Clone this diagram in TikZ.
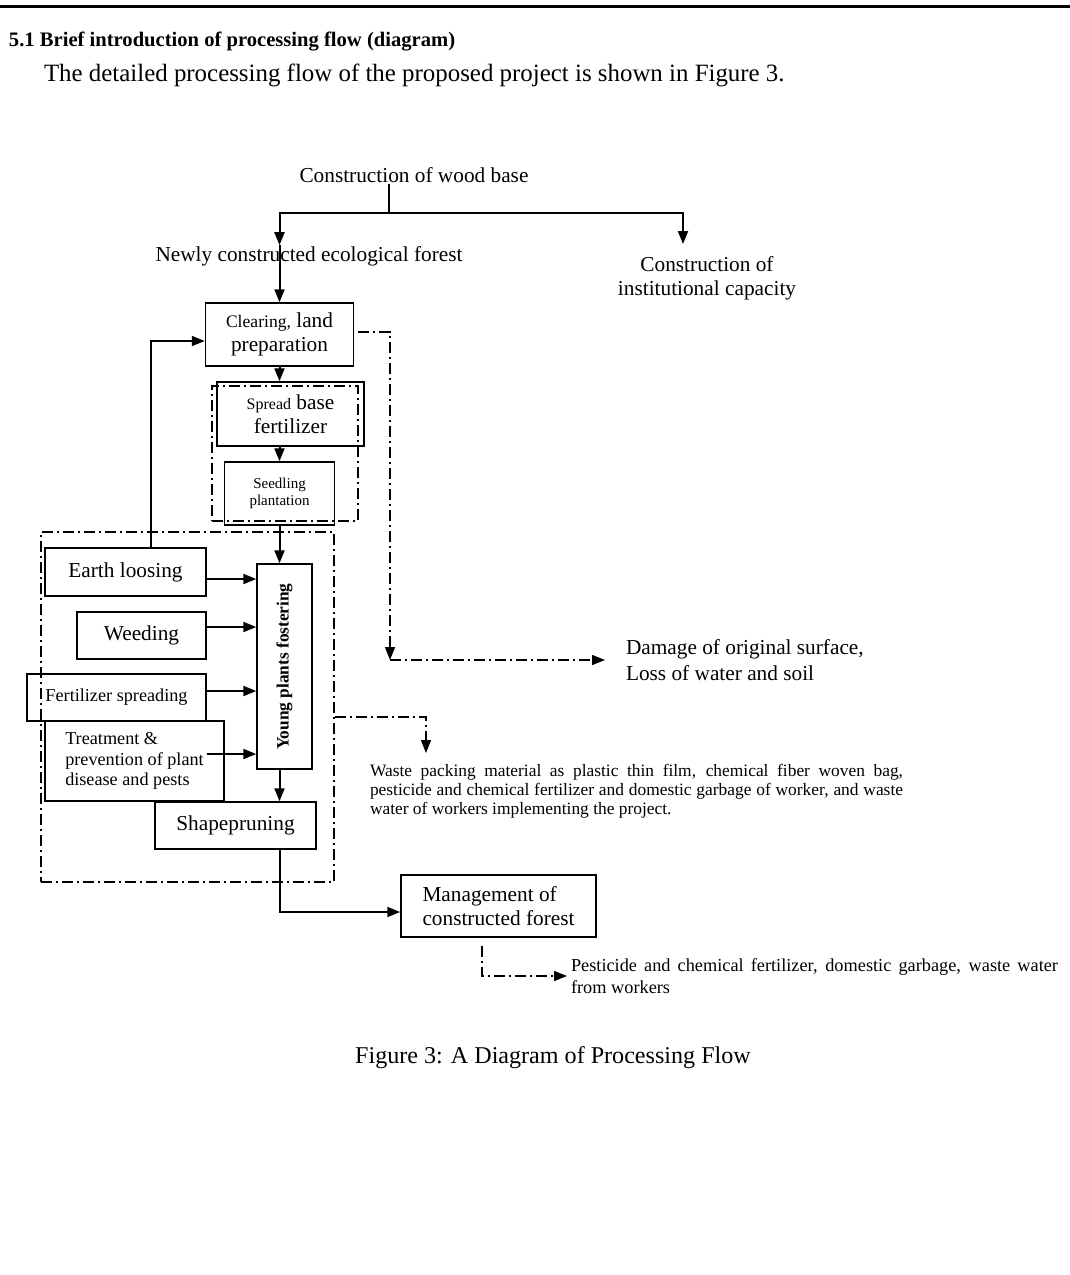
\documentclass[tikz,border=0pt]{standalone}
\usepackage{fontspec}
\setmainfont{Liberation Serif}
\usetikzlibrary{arrows.meta,calc}

\newcommand\bigtxt{\fontsize{10.65}{12}\selectfont}
\newcommand\smalltxt{\fontsize{9.1}{10.25}\selectfont}

\begin{document}
\begin{tikzpicture}[x=0.5pt,y=-0.5pt,>={Triangle[length=6.5pt,width=5pt]},line width=1pt,
    box/.style={draw,line width=0.75pt,inner sep=0pt,align=center,font=\bigtxt},
    txt/.style={inner sep=0pt,align=center,font=\bigtxt},
    dd/.style={line width=0.7pt,dash pattern=on 5.5pt off 2pt on 1pt off 2pt}]
    \useasboundingbox (0,0) rectangle (1070,1275);
    \draw[line width=1.5pt] (0,6) -- (1070,6);

    \node[txt,anchor=west,font=\bfseries\fontsize{10.3}{12}\selectfont] (head) at (8,42) {5.1 Brief introduction of processing flow (diagram)};
    \node[txt,anchor=west,font=\fontsize{12.45}{14}\selectfont] (intro) at (43,75) {The detailed processing flow of the proposed project is shown in Figure 3.};

    \node[txt] (wood)  at (414,175) {Construction of wood base};
    \node[txt] (newly) at (309,256) {Newly constructed ecological forest};
    \node[txt] (inst)  at (707,278) {Construction of\\institutional capacity};

    \node[box,minimum width=74pt,minimum height=31.5pt] (clear) at (279.5,334.5) {{\fontsize{8.8}{12}\selectfont Clearing,} land\\preparation};
    \node[box,minimum width=73.5pt,minimum height=32pt] (spread) at (290.5,414) {{\fontsize{8}{12}\selectfont Spread} base\\fertilizer};
    \node[box,minimum width=55pt,minimum height=31.5pt,font=\fontsize{7.5}{8.5}\selectfont] (seed) at (279.5,493.5) {Seedling\\plantation};
    \node[dd,draw,inner sep=0pt,minimum width=73pt,minimum height=67.5pt] (seedframe) at (285,453.5) {};

    \node[box,minimum width=27.5pt,minimum height=102.5pt] (young) at (284.5,666.5) {};
    \node[rotate=90,inner sep=0pt,font=\bfseries\fontsize{8.65}{10}\selectfont] (youngtxt) at (young) {Young plants fostering};
    \node[box,minimum width=80.5pt,minimum height=24pt] (earth) at (125.5,572) {Earth loosing};
    \node[box,minimum width=64.5pt,minimum height=23.5pt] (weed) at (141.5,635.5) {Weeding};
    \node[box,minimum width=89.5pt,minimum height=23.5pt,font=\smalltxt] (fert) at (116.5,697.5) {Fertilizer spreading};
    \node[box,minimum width=89.5pt,minimum height=40pt,font=\smalltxt,align=left] (treat) at (134.5,761) {Treatment \&\\prevention of plant\\disease and pests};
    \node[box,minimum width=80.5pt,minimum height=23.5pt] (shape) at (235.5,825.5) {Shapepruning};
    \node[dd,draw,inner sep=0pt,minimum width=146.5pt,minimum height=175pt] (frame) at (187.5,707) {};

    \node[box,minimum width=97.5pt,minimum height=31pt,align=left] (manage) at (498.5,906) {Management of\\constructed forest};

    \node[txt,anchor=west,align=left,inner xsep=10pt,font=\fontsize{10.65}{13}\selectfont] (damage) at (605,660) {Damage of original surface,\\Loss of water and soil};
    \node[txt,anchor=north west,align=left,font=\fontsize{8.7}{9.5}\selectfont] (waste) at (369,763) {\makebox[266.5pt][s]{Waste packing material as plastic thin film, chemical fiber woven bag,}\\\makebox[266.5pt][s]{pesticide and chemical fertilizer and domestic garbage of worker, and waste}\\water of workers implementing the project.};
    \node[txt,anchor=west,align=left,inner xsep=1.5pt,font=\fontsize{9.15}{11}\selectfont] (pest) at (567,976) {\makebox[243.5pt][s]{Pesticide and chemical fertilizer, domestic garbage, waste water}\\from workers};

    \node[txt,font=\fontsize{12.05}{14}\selectfont] (caption) at (553,1058) {Figure 3: A Diagram of Processing Flow};

    % main flow
    \coordinate (split) at (389,213);
    \coordinate (lft) at (279.5,213);
    \coordinate (rgt) at (683,213);
    \coordinate (instarr) at (683,244);
    \draw (wood.south -| split) -- (split);
    \draw[->] (split) -- (lft) -- (newly.north -| lft);
    \draw[->] (split) -- (rgt) -- (instarr);
    \draw[->] (newly.north -| lft) -- (clear.north);

    \path[->]
    (clear.south) edge (clear.south |- spread.north)
    (clear.south |- spread.south) edge (seed.north)
    (seed.south) edge (seed.south |- young.north)
    (seed.south |- young.south) edge (seed.south |- shape.north)
    ;
    \foreach \n/\d in {earth/7,weed/-8.5,fert/-6.5,treat/-7}
        \draw[->] ($(\n.east -| earth.east)+(0,\d)$) -- ($(\n.east -| young.west)+(0,\d)$);
    \draw[->] ($(earth.north)+(25.5,0)$) |- ($(clear.west)+(0,6.5)$);
    \draw[->] (shape.south -| seed.south) |- ($(manage.west)+(0,6)$);

    % discharge
    \coordinate (dmgturn) at (390,660);
    \coordinate (wasteturn) at (426,717);
    \coordinate (wastetip) at (426,753);
    \draw[dd,->] ($(clear.east)+(4,-2.5)$) -| (dmgturn);
    \draw[dd,->] (dmgturn) -- (damage.west);
    \draw[dd] ($(seedframe.south east)+(-9,0)$) -- ($(seedframe.south east)+(-9,0)$ |- wasteturn);
    \draw[dd,->] (frame.east |- wasteturn) -- (wasteturn) -- (wastetip);
    \draw[dd,->] ($(manage.south)+(-16.5,8)$) |- (pest.west);
\end{tikzpicture}
\end{document}
